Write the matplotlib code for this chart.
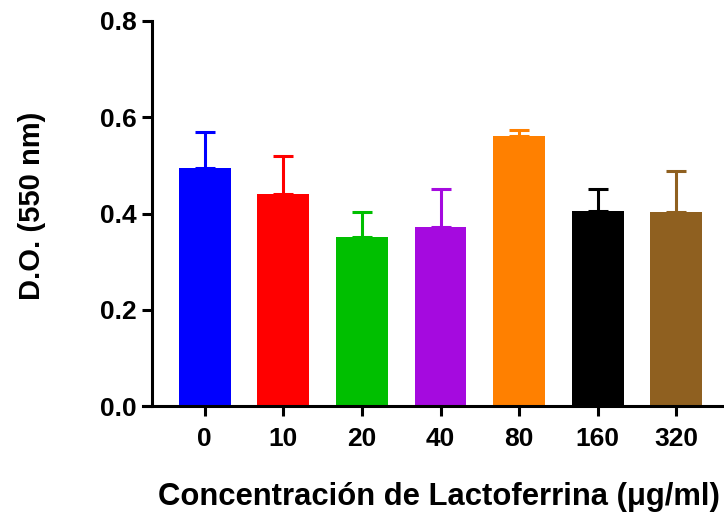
import matplotlib
matplotlib.use("Agg")
import matplotlib.pyplot as plt
import numpy as np

plt.rcParams['font.family'] = ['Liberation Sans', 'DejaVu Sans']
plt.rcParams['font.weight'] = 'bold'

# Data
concentrations = ["0", "10", "20", "40", "80", "160", "320"]
means = [0.495, 0.441, 0.351, 0.372, 0.562, 0.405, 0.403]
errors = [0.074, 0.078, 0.052, 0.079, 0.011, 0.045, 0.086]
colors = ["#0000FF", "#FF0000", "#00BF00", "#A50ADF", "#FF8000", "#000000", "#8F6020"]

fig = plt.figure(figsize=(7.24, 5.18), dpi=100)
# axes spans a little past the right edge, like the original crop
ax = fig.add_axes([143 / 724, 112 / 518, 586 / 724, 385 / 518])

x = np.arange(len(concentrations))
for i in range(len(x)):
    ax.bar(x[i], means[i], width=0.66, color=colors[i], zorder=2)
    ax.errorbar(x[i], means[i], yerr=[[0], [errors[i]]], fmt="none",
                ecolor=colors[i], elinewidth=2.2, capsize=7.5, capthick=2.2, zorder=1)

ax.set_xlim(-0.785, 6.67)
ax.set_ylim(0, 0.8)
ax.spines['left'].set_position(('data', -0.67))
ax.spines['top'].set_visible(False)
ax.spines['right'].set_visible(False)
ax.spines['left'].set_linewidth(2.2)
ax.spines['bottom'].set_linewidth(2.2)

ax.set_xticks(x)
ax.set_xticklabels(concentrations)
ax.set_yticks([0.0, 0.2, 0.4, 0.6, 0.8])
ax.set_yticklabels(["0.0", "0.2", "0.4", "0.6", "0.8"])
ax.tick_params(axis='both', width=2.2, length=7, labelsize=19)
ax.tick_params(axis='x', pad=8)
ax.tick_params(axis='y', pad=4)
for lab in ax.get_xticklabels() + ax.get_yticklabels():
    lab.set_fontweight('bold')

ax.set_ylabel("D.O. (550 nm)", fontsize=21, fontweight='bold')
ax.yaxis.set_label_coords(-0.165, 0.52)
ax.set_xlabel("Concentración de Lactoferrina (μg/ml)", fontsize=22.3,
              fontweight='bold')
ax.xaxis.set_label_coords(0.505, -0.197)

fig.savefig("out.png", dpi=100)
